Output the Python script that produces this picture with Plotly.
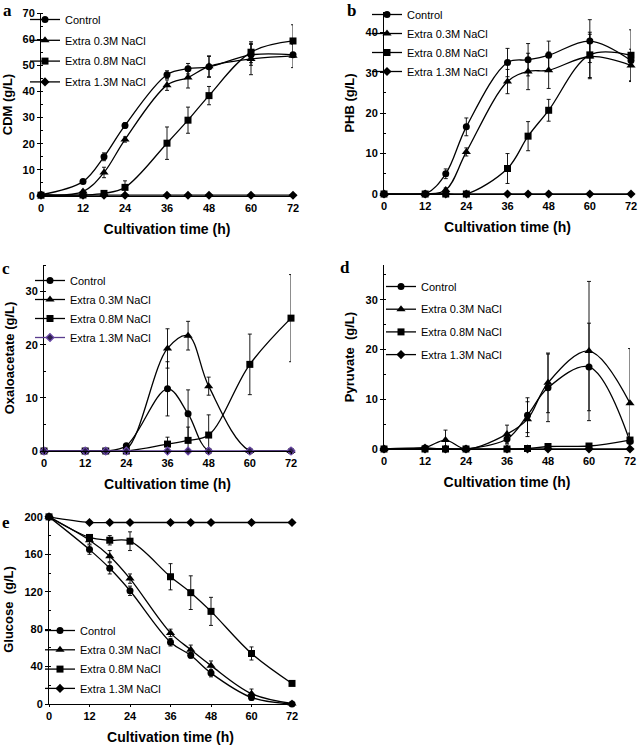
import plotly.graph_objects as go

time = [0, 12, 18, 24, 36, 42, 48, 60, 72]
series_names = ["Control", "Extra 0.3M NaCl", "Extra 0.8M NaCl", "Extra 1.3M NaCl"]

# Panel a: CDM (g/L)
cdm_control = [0.5, 5.5, 15, 27, 46.4, 48.7, 49.4, 54, 54]
cdm_control_err = [0, 0.5, 1.5, 1, 1.5, 2, 4, 4, 0.5]
cdm_03 = [0.5, 1.7, 9, 21.6, 42.4, 45.3, 49.6, 52.4, 53.6]
cdm_03_err = [0, 0.5, 2, 1, 2, 4, 4, 6, 4.5]
cdm_08 = [0.3, 0.4, 1, 3.3, 20.2, 29, 38.4, 55, 59.3]
cdm_08_err = [0, 0, 0.5, 2.5, 6.2, 5, 3.5, 4, 6.2]
cdm_13 = [0.3, 0.3, 0.3, 0.3, 0.3, 0.3, 0.3, 0.3, 0.3]
cdm_13_err = [0, 0, 0, 0, 0, 0, 0, 0, 0]

# Panel b: PHB (g/L)
phb_control = [0, 0, 5, 16.6, 32.5, 33.2, 34.3, 37.8, 33]
phb_control_err = [0, 0, 1.2, 2.2, 3.5, 4, 3.5, 5.3, 1.5]
phb_03 = [0, 0, 1, 10.4, 27.8, 30.3, 30.6, 34, 31.8]
phb_03_err = [0, 0, 0.5, 1, 3, 4.5, 4.5, 5.5, 4]
phb_08 = [0, 0, 0, 0, 6.3, 14.3, 20.7, 34.4, 34.3]
phb_08_err = [0, 0, 0, 0, 3.7, 3.6, 2.7, 5.6, 6.3]
phb_13 = [0, 0, 0, 0, 0, 0, 0, 0, 0]
phb_13_err = [0, 0, 0, 0, 0, 0, 0, 0, 0]

# Panel c: Oxaloacetate (g/L)
oxa_control = [0, 0, 0, 1, 11.7, 7, 0, 0, 0]
oxa_control_err = [0, 0, 0, 0.3, 5.1, 4.5, 0, 0, 0]
oxa_03 = [0, 0, 0, 0.3, 19.3, 21.7, 12.2, 0, 0]
oxa_03_err = [0, 0, 0, 0, 3.7, 2.7, 1.7, 0, 0]
oxa_08 = [0, 0, 0, 0, 1.3, 2, 3, 16.3, 25]
oxa_08_err = [0, 0, 0, 0, 1.3, 2.5, 3.8, 5.7, 8.2]
oxa_13 = [0, 0, 0, 0, 0, 0, 0, 0, 0]
oxa_13_err = [0, 0, 0, 0, 0, 0, 0, 0, 0]

# Panel d: Pyruvate (g/L)
pyr_control = [0, 0.2, 0, 0, 2, 6.8, 12.3, 16.5, 1.5]
pyr_control_err = [0, 0.3, 0, 0, 1, 3.5, 6.8, 8.8, 1.7]
pyr_03 = [0, 0.3, 1.8, 0, 3, 6, 13.3, 19.7, 9.2]
pyr_03_err = [0, 0.3, 2, 0, 1.8, 3.5, 6, 14, 11]
pyr_08 = [0, 0, 0, 0, 0, 0.1, 0.5, 0.6, 1.8]
pyr_08_err = [0, 0, 0, 0, 0, 0, 0.3, 0.3, 1.2]
pyr_13 = [0, 0, 0, 0, 0, 0, 0, 0, 0]
pyr_13_err = [0, 0, 0, 0, 0, 0, 0, 0, 0]

# Panel e: Glucose (g/L)
glc_control = [200, 165, 145, 121, 66, 52, 33, 7, 0]
glc_control_err = [0, 5, 6, 5, 4, 3, 4, 3, 0]
glc_03 = [200, 175, 158, 134, 76, 58, 41, 11, 0.5]
glc_03_err = [0, 4, 6, 5, 4, 5, 5, 5, 1]
glc_08 = [200, 178, 175, 174, 136, 119, 99, 54, 22]
glc_08_err = [0, 3, 5, 10, 14, 18, 15, 7, 2]
glc_13 = [200, 194, 194, 194, 194, 194, 194, 194, 194]
glc_13_err = [0, 0, 0, 0, 0, 0, 0, 0, 0]

x_ticks = [0, 12, 24, 36, 48, 60, 72]

W, H = 638, 746
FONT = "Liberation Sans, Arial, sans-serif"

symbols = ["circle", "triangle-up", "square", "diamond"]
sizes = [7, 8, 7, 7]


def px_x(a, b):
    return [a / W, b / W]


def px_y(top, bottom):
    return [1 - bottom / H, 1 - top / H]


panels = [
    dict(key="a", ys=[(cdm_control, cdm_control_err), (cdm_03, cdm_03_err), (cdm_08, cdm_08_err), (cdm_13, cdm_13_err)],
         xd=px_x(41, 293), yd=px_y(13, 196), yr=[0, 70], dt=10, ytitle="CDM (g/L)",
         leg=(25, 5, 1.8), lab=(7, 10)),
    dict(key="b", ys=[(phb_control, phb_control_err), (phb_03, phb_03_err), (phb_08, phb_08_err), (phb_13, phb_13_err)],
         xd=px_x(384, 631), yd=px_y(12, 194), yr=[0, 45], dt=10, ytitle="PHB (g/L)",
         leg=(367, 0, 0), lab=(351, 10)),
    dict(key="c", ys=[(oxa_control, oxa_control_err), (oxa_03, oxa_03_err), (oxa_08, oxa_08_err), (oxa_13, oxa_13_err)],
         xd=px_x(44, 291), yd=px_y(265, 451), yr=[0, 35], dt=10, ytitle="Oxaloacetate (g/L)",
         leg=(30, 266, 0), lab=(6, 268)),
    dict(key="d", ys=[(pyr_control, pyr_control_err), (pyr_03, pyr_03_err), (pyr_08, pyr_08_err), (pyr_13, pyr_13_err)],
         xd=px_x(384, 630), yd=px_y(265, 449), yr=[0, 37], dt=10, ytitle="Pyruvate  (g/L)",
         leg=(381, 272, 3.7), lab=(345, 267)),
    dict(key="e", ys=[(glc_control, glc_control_err), (glc_03, glc_03_err), (glc_08, glc_08_err), (glc_13, glc_13_err)],
         xd=px_x(49, 292), yd=px_y(515, 704), yr=[0, 202], dt=40, ytitle="Glucose  (g/L)",
         leg=(40, 616, 0.3), lab=(6, 522)),
]

fig = go.Figure()
layout = dict(
    width=W, height=H, margin=dict(l=0, r=0, t=0, b=0, autoexpand=False),
    paper_bgcolor="white", plot_bgcolor="white",
    font=dict(family=FONT, color="black", size=11),
    showlegend=True, annotations=[],
)

for i, p in enumerate(panels):
    n = i + 1
    xa = "x" if n == 1 else f"x{n}"
    ya = "y" if n == 1 else f"y{n}"
    legname = "legend" if n == 1 else f"legend{n}"
    for j, (vals, err) in enumerate(p["ys"]):
        lcolor = "black"
        mcolor = "black"
        msize = sizes[j]
        mline = dict(width=0)
        if p["key"] == "c" and j == 3:
            lcolor = "#5b3d8f"
            mcolor = "#2e1f4d"
            msize = 6
            mline = dict(width=1.2, color="#6a48a8")
        fig.add_trace(go.Scatter(
            x=time, y=vals, name=series_names[j], mode="lines+markers",
            xaxis=xa, yaxis=ya, legend=legname, legendgroup=f"{p['key']}{j}",
            line=dict(color=lcolor, width=1.3, shape="spline", smoothing=1.0),
            marker=dict(symbol=symbols[j], size=msize, color=mcolor, line=mline),
            error_y=dict(type="data", array=err, visible=True, color="black", thickness=0.9, width=2),
            cliponaxis=False,
        ))
    xkey = "xaxis" if n == 1 else f"xaxis{n}"
    ykey = "yaxis" if n == 1 else f"yaxis{n}"
    layout[xkey] = dict(
        domain=p["xd"], anchor=ya, range=[0, 72], tickvals=x_ticks, automargin=False,
        showline=True, linecolor="black", linewidth=1, showgrid=False, zeroline=False,
        ticks="outside", ticklen=2, tickcolor="black",
        tickfont=dict(family=FONT, size=11, weight="bold"),
        title=dict(text="Cultivation time (h)", font=dict(family=FONT, size=14, weight="bold"), standoff=10),
    )
    layout[ykey] = dict(
        domain=p["yd"], anchor=xa, range=p["yr"], dtick=p["dt"], tick0=0, automargin=False,
        showline=True, linecolor="black", linewidth=1, showgrid=False, zeroline=False,
        ticks="outside", ticklen=3, tickcolor="black",
        minor=dict(dtick=p["dt"] / 2, ticks="inside", ticklen=2, tickcolor="black"),
        tickfont=dict(family=FONT, size=11, weight="bold"),
        title=dict(text=p["ytitle"], font=dict(family=FONT, size=13, weight="bold"), standoff=7),
    )
    lx, ly, gap = p["leg"]
    layout[legname] = dict(
        x=lx / W, y=1 - ly / H, xanchor="left", yanchor="top",
        bgcolor="rgba(0,0,0,0)", borderwidth=0, tracegroupgap=gap,
        font=dict(family=FONT, size=11, color="black"), itemwidth=30,
        traceorder="grouped",
    )
    ax, ay = p["lab"]
    layout["annotations"].append(dict(
        text=p["key"], x=ax / W, y=1 - ay / H, xref="paper", yref="paper",
        xanchor="center", yanchor="middle", showarrow=False,
        font=dict(family="Liberation Serif, Times New Roman, serif", size=17, weight="bold", color="black"),
    ))

fig.update_layout(**layout)
fig.write_html("out.html", config={"displayModeBar": False},
               post_script="document.body.style.margin='0';document.body.style.padding='0';")
